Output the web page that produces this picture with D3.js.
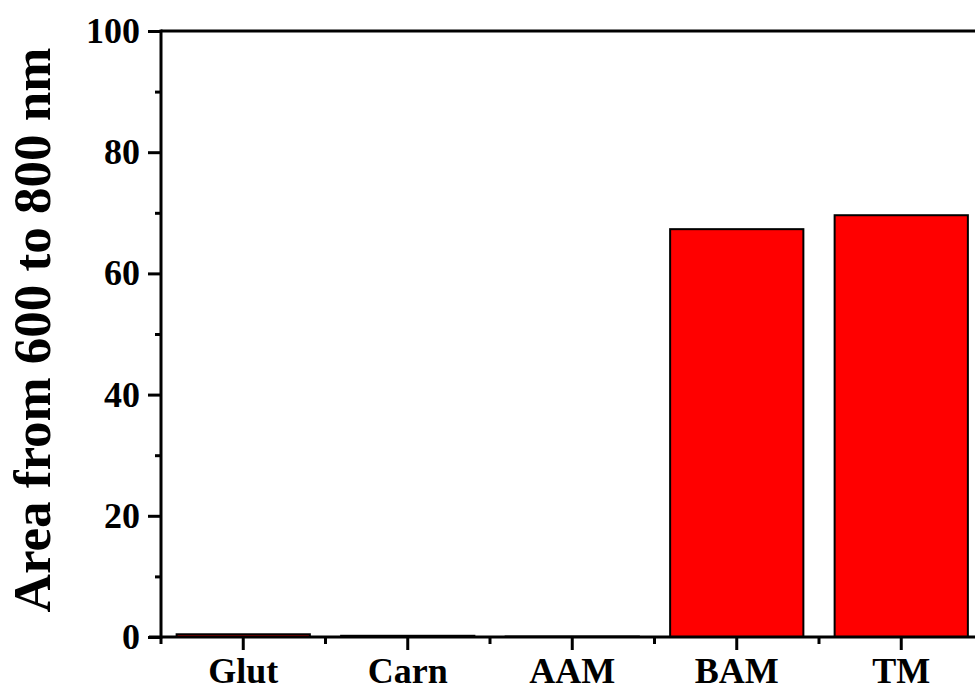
<!DOCTYPE html>
<html>
<head>
<meta charset="utf-8">
<script src="https://cdn.jsdelivr.net/npm/d3@7/dist/d3.min.js"></script>
<style>
  html, body { margin: 0; padding: 0; background: #fff; overflow: hidden; }
  svg { display: block; }
  text { font-family: "Liberation Serif", "Times New Roman", serif; font-weight: bold; fill: #000; }
</style>
</head>
<body>
<svg id="chart" width="975" height="691"></svg>
<script>
// Integrated emission area (600–800 nm) per sample
const categories = ["Glut", "Carn", "AAM", "BAM", "TM"];
const areaValues = [0.45, 0.2, 0.08, 67.3, 69.6];
const yTicks = [0, 20, 40, 60, 80, 100];
const yMinorTicks = [10, 30, 50, 70, 90];
const yLabel = "Area from 600 to 800 nm";

const svg = d3.select("#chart");
const plotLeft = 161, plotRight = 983.5, plotTop = 31, plotBottom = 637;

const x = d3.scaleBand()
  .domain(categories)
  .range([plotLeft, plotRight])
  .paddingInner(0.19)
  .paddingOuter(0.095);

const y = d3.scaleLinear().domain([0, 100]).range([plotBottom, plotTop]);

// Bars
svg.append("g")
  .selectAll("rect")
  .data(categories.map((c, i) => ({ c, v: areaValues[i] })))
  .join("rect")
  .attr("x", d => x(d.c))
  .attr("width", x.bandwidth())
  .attr("y", d => y(d.v))
  .attr("height", d => y(0) - y(d.v))
  .attr("fill", "#ff0000")
  .attr("stroke", "#000")
  .attr("stroke-width", 2);

// Top frame line
svg.append("line")
  .attr("x1", plotLeft).attr("x2", plotRight)
  .attr("y1", plotTop).attr("y2", plotTop)
  .attr("stroke", "#000").attr("stroke-width", 3);

// Y axis: major ticks with labels, minor ticks without
const yAxis = d3.axisLeft(y).tickValues(yTicks).tickSize(13).tickPadding(8).tickFormat(d3.format("d"));
const gy = svg.append("g").attr("transform", `translate(${plotLeft},0)`).call(yAxis);
gy.select(".domain").attr("stroke-width", 3).attr("d", `M0,${plotBottom + 1.5}V${plotTop - 1.5}`);
gy.selectAll(".tick line").attr("stroke-width", 3);
gy.selectAll(".tick text").attr("font-size", 36).attr("font-family", "Liberation Serif").attr("font-weight", "bold");

const gyMinor = svg.append("g").attr("transform", `translate(${plotLeft},0)`)
  .call(d3.axisLeft(y).tickValues(yMinorTicks).tickSize(6).tickFormat(""));
gyMinor.select(".domain").remove();
gyMinor.selectAll(".tick line").attr("stroke-width", 3);

// X axis: major ticks at category centres, minor ticks at band edges
const xAxis = d3.axisBottom(x).tickSize(13).tickPadding(7);
const gx = svg.append("g").attr("transform", `translate(0,${plotBottom})`).call(xAxis);
gx.select(".domain").attr("stroke-width", 3).attr("d", `M${plotLeft - 12},0H${plotRight}`);
gx.selectAll(".tick line").attr("stroke-width", 3);
gx.selectAll(".tick text").attr("font-size", 36).attr("font-family", "Liberation Serif").attr("font-weight", "bold");

const step = x.step();
const edges = d3.range(categories.length + 1).map(i => plotLeft + i * step);
svg.append("g").selectAll("line")
  .data(edges)
  .join("line")
  .attr("x1", d => d).attr("x2", d => d)
  .attr("y1", plotBottom).attr("y2", plotBottom + 7)
  .attr("stroke", "#000").attr("stroke-width", 3);

// Y axis title
svg.append("text")
  .attr("transform", `translate(50,${(plotTop + plotBottom) / 2 - 4}) rotate(-90)`)
  .attr("text-anchor", "middle")
  .attr("font-size", 53)
  .text(yLabel);
</script>
</body>
</html>
